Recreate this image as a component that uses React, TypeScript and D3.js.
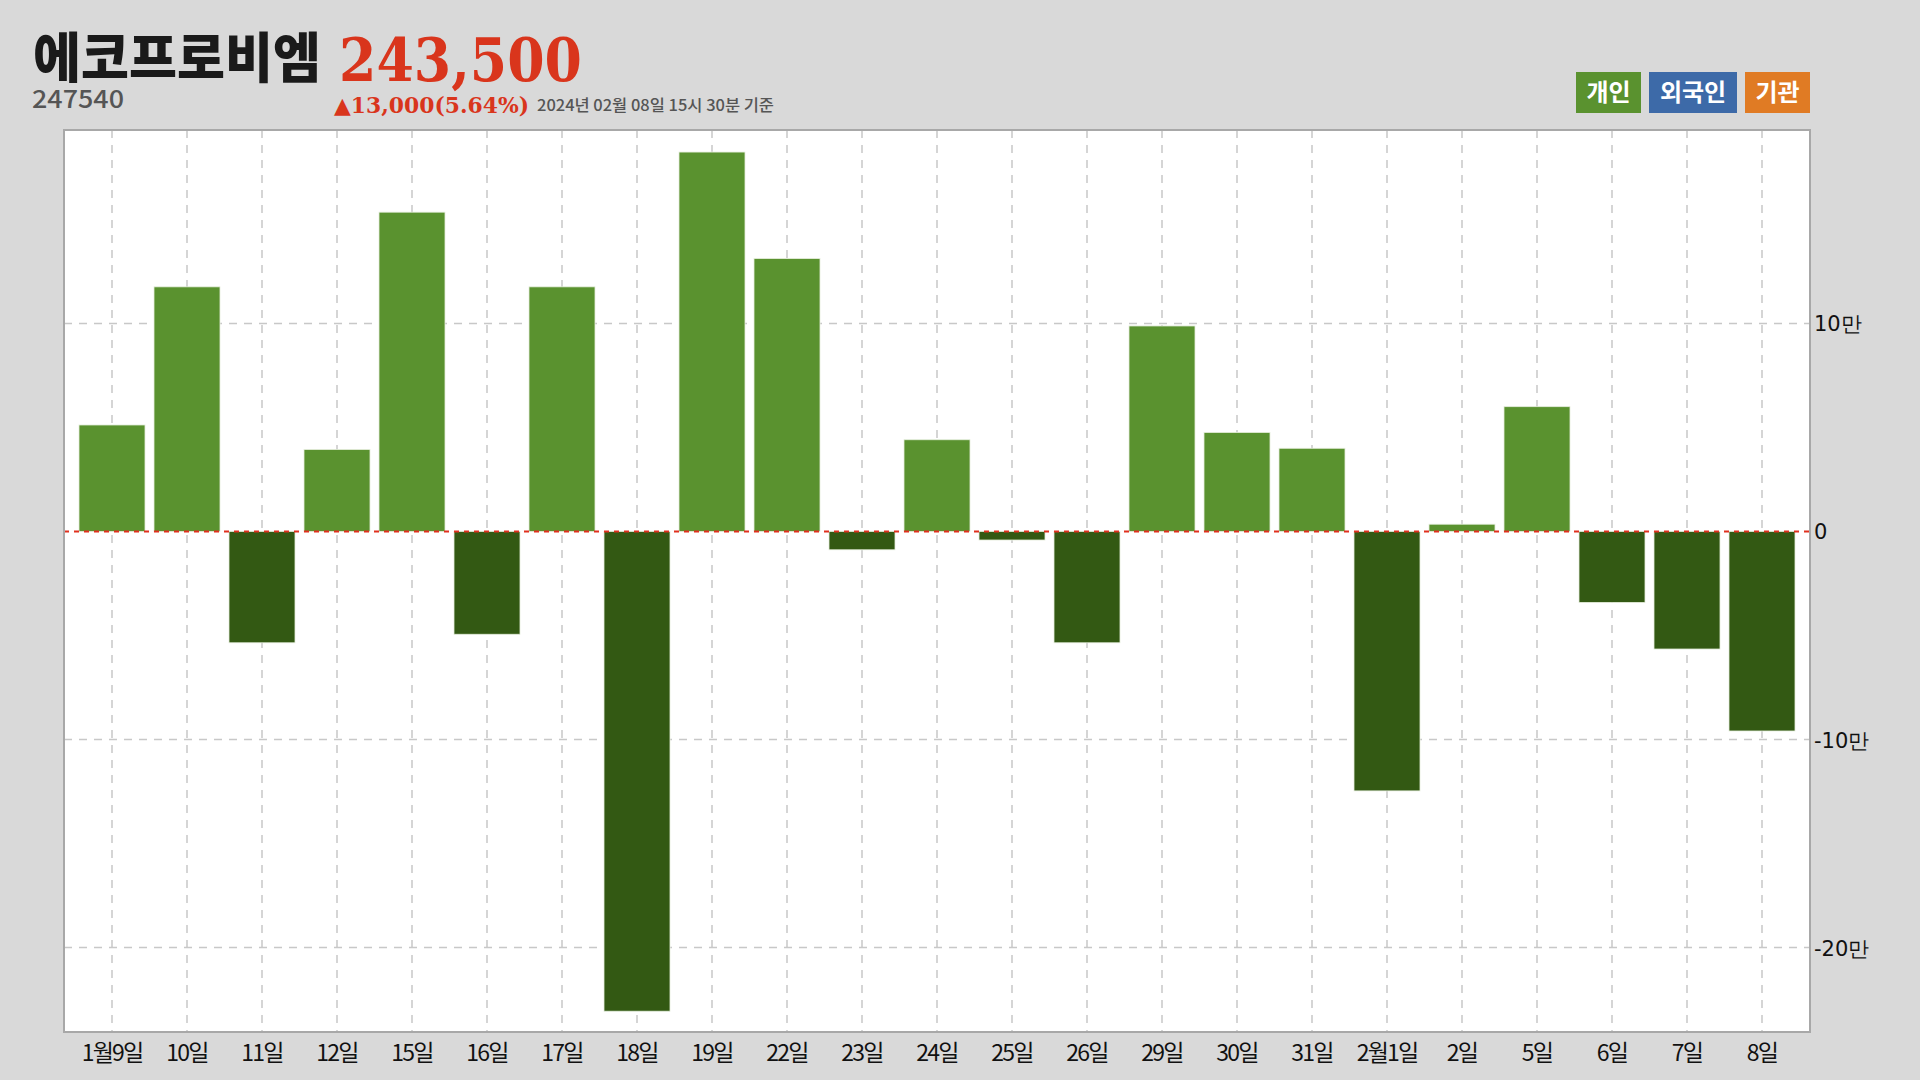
import React from "react";
import * as d3 from "d3";

const categories = ["1월9일","10일","11일","12일","15일","16일","17일","18일","19일","22일","23일","24일","25일","26일","29일","30일","31일","2월1일","2일","5일","6일","7일","8일"];
const values = [51200,117600,-53500,39400,153500,-49400,117600,-230600,182400,131200,-8800,44100,-4100,-53500,98800,47600,40000,-124700,3500,60000,-34100,-56500,-95900];
const yTicks = [100000, 0, -100000, -200000];
const yTickLabels = ["10만", "0", "-10만", "-20만"];
const legendLabels = ["개인", "외국인", "기관"];
const legendColors = ["#5a922f", "#3d6aa8", "#e07b24"];

const W = 1920, H = 1080;
const left = 64, right = 1810, top = 130, bottom = 1032;

export default function App() {
  const x = d3.scaleBand<string>().domain(categories).range([left, right]).paddingInner(0.12).paddingOuter(0.2);
  const y = d3.scaleLinear().domain([-240600, 193000]).range([bottom, top]);
  const font = "'Noto Sans CJK KR', 'Noto Sans', sans-serif";
  const legendX = [1576, 1649, 1745];
  const legendW = [65, 88, 65];
  return (
    <svg width={W} height={H} style={{ position: "fixed", left: 0, top: 0, background: "#d9d9d9" }} fontFamily={font}>
      <rect x={0} y={0} width={W} height={H} fill="#d9d9d9" />
      {/* Header */}
      <text x={33} y={78} fontSize={54} fontWeight={900} fill="#1a1a1a" textLength={288} lengthAdjust="spacingAndGlyphs">에코프로비엠</text>
      <text x={339} y={81} fontSize={60} fontWeight={700} fill="#d9351c" fontFamily="'DejaVu Serif', serif" textLength={243} lengthAdjust="spacingAndGlyphs">243,500</text>
      <text x={32} y={108} fontSize={25} fontWeight={500} fill="#555" textLength={92} lengthAdjust="spacingAndGlyphs">247540</text>
      <text x={334} y={113} fontSize={22} fontWeight={700} fill="#d9351c" fontFamily="'DejaVu Serif', serif" textLength={195} lengthAdjust="spacingAndGlyphs">▲13,000(5.64%)</text>
      <text x={537} y={111} fontSize={16} fontWeight={500} fill="#555" textLength={237} lengthAdjust="spacingAndGlyphs">2024년 02월 08일 15시 30분 기준</text>
      {/* Legend */}
      {legendLabels.map((l, i) => (
        <g key={l}>
          <rect x={legendX[i]} y={72} width={legendW[i]} height={41} fill={legendColors[i]} />
          <text x={legendX[i] + legendW[i] / 2} y={101} fontSize={24} fontWeight={700} fill="#fff" textAnchor="middle">{l}</text>
        </g>
      ))}
      {/* Plot */}
      <rect x={left} y={top} width={right - left} height={bottom - top} fill="#fff" />
      {categories.map((c) => (
        <line key={"vg" + c} x1={x(c)! + x.bandwidth() / 2} x2={x(c)! + x.bandwidth() / 2} y1={top} y2={bottom} stroke="#c8c8c8" strokeWidth={1.5} strokeDasharray="8,7" />
      ))}
      {yTicks.filter((t) => t !== 0).map((t) => (
        <line key={"hg" + t} x1={left} x2={right} y1={y(t)} y2={y(t)} stroke="#c8c8c8" strokeWidth={1.5} strokeDasharray="8,7" />
      ))}
      {categories.map((c, i) => {
        const v = values[i];
        const y0 = y(0), y1 = y(v);
        return (
          <rect key={"b" + c} x={x(c)!} width={x.bandwidth()} y={Math.min(y0, y1)} height={Math.abs(y1 - y0)}
            fill={v >= 0 ? "#5a922f" : "#335913"} stroke="#e6eedd" strokeWidth={0.8} />
        );
      })}
      <line x1={left} x2={right} y1={y(0)} y2={y(0)} stroke="#e0301e" strokeWidth={2} strokeDasharray="5,5" />
      <rect x={left} y={top} width={right - left} height={bottom - top} fill="none" stroke="#a8a8a8" strokeWidth={2} />
      {/* Y labels */}
      {yTicks.map((t, i) => (
        <text key={"yl" + t} x={right + 4} y={y(t) + 8} fontSize={21} fill="#111" fontFamily="'DejaVu Sans', sans-serif">{yTickLabels[i]}</text>
      ))}
      {/* X labels */}
      {categories.map((c) => (
        <text key={"xl" + c} x={x(c)! + x.bandwidth() / 2} y={1061} fontSize={23} fill="#111" textAnchor="middle" letterSpacing={-1.8}>{c}</text>
      ))}
    </svg>
  );
}
